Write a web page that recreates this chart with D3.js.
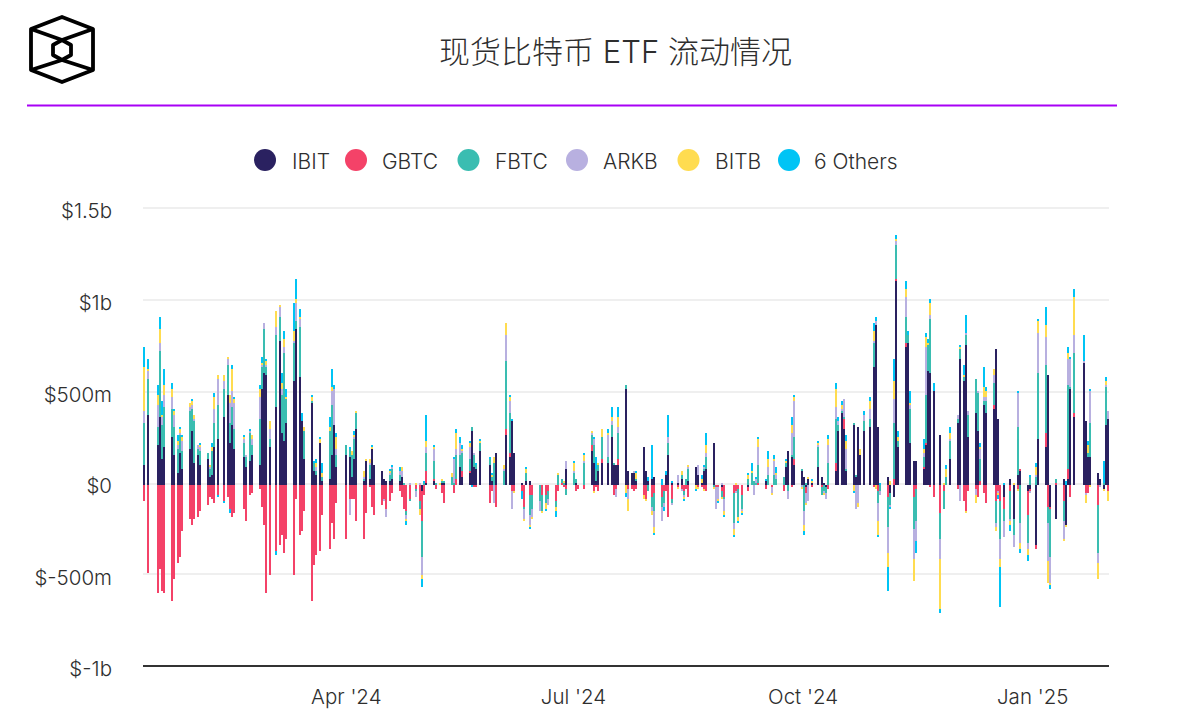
<!DOCTYPE html>
<html>
<head>
    <meta charset="utf-8">
    <style>
        html, body {
            margin: 0;
            padding: 0;
            background: #fff;
        }

        text {
            font-family: Inter, "Noto Sans CJK SC", sans-serif;
            font-weight: 300;
            fill: #2e2e2e;
        }

        .axis .domain {
            display: none;
        }
    </style>
    <script src="https://cdnjs.cloudflare.com/ajax/libs/d3/7.8.5/d3.min.js"></script>
</head>
<body>
<svg id="chart" width="1186" height="722"></svg>
<script>
    "use strict";

    const TITLE = "现货比特币 ETF 流动情况";
    const keys = ["IBIT", "GBTC", "FBTC", "ARKB", "BITB", "6 Others"];
    const colors = ["#2a2160", "#f44268", "#3abdb1", "#b8b0e0", "#ffdc50", "#00c4f5"];
    const yTicks = [1500, 1000, 500, 0, -500, -1000];
    const yTickLabels = ["$1.5b", "$1b", "$500m", "$0", "$-500m", "$-1b"];
    const xTicks = ["2024-04-01", "2024-07-01", "2024-10-01", "2025-01-01"];

    // trading days, month by month
    const tradingDays = [
        ["2024-01", [11, 12, 16, 17, 18, 19, 22, 23, 24, 25, 26, 29, 30, 31]],
        ["2024-02", [1, 2, 5, 6, 7, 8, 9, 12, 13, 14, 15, 16, 20, 21, 22, 23, 26, 27, 28, 29]],
        ["2024-03", [1, 4, 5, 6, 7, 8, 11, 12, 13, 14, 15, 18, 19, 20, 21, 22, 25, 26, 27, 28]],
        ["2024-04", [1, 2, 3, 4, 5, 8, 9, 10, 11, 12, 15, 16, 17, 18, 19, 22, 23, 24, 25, 26, 29, 30]],
        ["2024-05", [1, 2, 3, 6, 7, 8, 9, 10, 13, 14, 15, 16, 17, 20, 21, 22, 23, 24, 28, 29, 30, 31]],
        ["2024-06", [3, 4, 5, 6, 7, 10, 11, 12, 13, 14, 17, 18, 20, 21, 24, 25, 26, 27, 28]],
        ["2024-07", [1, 2, 3, 5, 8, 9, 10, 11, 12, 15, 16, 17, 18, 19, 22, 23, 24, 25, 26, 29, 30, 31]],
        ["2024-08", [1, 2, 5, 6, 7, 8, 9, 12, 13, 14, 15, 16, 19, 20, 21, 22, 23, 26, 27, 28, 29, 30]],
        ["2024-09", [3, 4, 5, 6, 9, 10, 11, 12, 13, 16, 17, 18, 19, 20, 23, 24, 25, 26, 27, 30]],
        ["2024-10", [1, 2, 3, 4, 7, 8, 9, 10, 11, 14, 15, 16, 17, 18, 21, 22, 23, 24, 25, 28, 29, 30, 31]],
        ["2024-11", [1, 4, 5, 6, 7, 8, 11, 12, 13, 14, 15, 18, 19, 20, 21, 22, 25, 26, 27, 29]],
        ["2024-12", [2, 3, 4, 5, 6, 9, 10, 11, 12, 13, 16, 17, 18, 19, 20, 23, 24, 26, 27, 30, 31]],
        ["2025-01", [2, 3, 6, 7, 8, 10, 13, 14, 15, 16, 17, 21, 22, 23, 24, 27, 28, 29, 30, 31]]
    ];

    // daily flows in $m, one line per month as above
    const ibit = [
        110, 382, 218, 371, 142, 207, 262, 164, 66, 175, 87, 197, 295, 120,
        164, 109, 142, 44, 55, 207, 251, 371, 491, 229, 328, 197, 153, 98, 131, 164, 109, 524, 612, 601,
        207, 426, 786, 284, 240, 338, 568, 852, 590, 349, 142, 448, 76, 55, 229, 22, 33, 164, 328, 98,
        164, 153, 44, 142, 306, 22, 131, 33, 197, 109, 76, 33, 22, 22, 33, 22, 44, 0, 0, 0, 0, 0,
        -33, 0, 11, 22, 0, 0, 11, 11, 0, 0, 0, 98, 44, 66, 295, 98, 87, 186, 109, 22, 0, 175,
        0, 273, 153, 349, 175, 11, 0, 22, 22, 0, 0, 0, 0, 0, 0, 0, 0, 0, 87,
        0, 11, 0, 0, 186, 120, 22, 76, 120, 120, 262, 109, 109, 109, 524, 76, 66, 66, 22, 207, 76, 22,
        33, 44, 0, 0, 55, 164, 11, 11, 33, 0, 0, 22, 98, 55, 11, 76, 87, 229, 0, 0, -11, 0,
        0, 0, 0, 0, -11, 0, 0, 0, 0, 22, 0, 0, 0, 0, 0, 98, 186, 153, 109, 76,
        44, -11, 33, 11, 98, 44, 11, -11, 0, 76, 295, 393, 306, 76, 328, 44, 317, 164, 295, 317, 644, 873, 317,
        0, 44, -44, -66, 1113, 207, 753, 775, 229, 131, 131, 87, 218, 622, 611, 513, 273, 0, 0, 142,
        339, 688, 568, 764, 262, 393, 295, 0, 437, 393, 415, 743, 360, 0, -66, 33, -186, 55, 76, -33, -22,
        -328, 251, 207, 601, -120, -186, 33, -218, 33, 524, 371, 666, 349, 153, 153, 66, 33, -22, 328, 360
    ];
    const gbtc = [
        -87, -480, -590, -459, -579, -590, -633, -513, -426, -393, -251, -186, -218, -186,
        -175, -142, -109, -66, -76, -98, -55, -87, -66, -131, -175, -153, -131, -197, -55, -44, -22, -120, -218, -590,
        -491, -360, -328, -273, -371, -295, -491, -76, -273, -251, -142, -633, -437, -382, -360, -164, -349, -207, -295, -98,
        -295, -76, -76, -76, -197, -295, -153, -11, -120, -164, -109, -76, -131, -87, -44, -33, -66, -131, -142, -76, -22, -87,
        -164, -55, 66, 11, -22, 0, -44, -98, 0, -44, 33, 0, 33, 11, 0, -11, -11, 0, -98, -33, 0, -120,
        0, 33, 22, -33, -33, -33, -120, 0, -55, -55, 0, -55, -55, -33, -87, -33, 11, -11, -22,
        0, -33, -22, -22, 33, -33, -11, -33, 22, 0, 0, -55, -22, 33, 0, -22, -22, -33, -22, -55, -76, 0,
        -66, -44, -66, -33, -33, -175, -76, -11, -22, -33, -22, -66, 0, -11, -11, -22, -33, 0, -11, -11, -22, -66,
        -44, -33, -22, -55, -22, 0, 0, 0, 11, -22, 0, -11, 0, 0, -33, 0, 0, -11, 33, 0,
        0, -33, 0, -11, 0, -11, 0, 0, -22, 44, 0, 0, 55, 0, 0, 0, 0, 0, 0, 0, -11, 0, -33,
        0, -66, 0, 33, 11, 0, 22, 0, 0, -66, -22, 11, 11, 0, -11, -66, -153, -33, 0, 0,
        -22, 0, -87, -142, -33, -22, -66, 22, -44, -98, 22, -87, -33, -87, -66, -33, 0, -22, 11, -131, -11,
        -22, 0, 76, -120, -11, 11, -87, 0, 55, -66, 22, 0, -44, -44, 0, -109, 0, 0, 0, -33
    ];
    const fbtc = [
        230, 197, 98, 360, 186, 218, 153, 153, 131, 98, 98, 207, 120, 229,
        33, 76, 33, 44, 131, 131, 186, 153, 164, 109, 98, 109, 76, 55, 153, 55, 251, 120, 240, 44,
        44, 393, 131, 207, 480, 131, 207, 44, 273, 0, 153, 11, 44, 22, 0, 22, 262, 273, 0, 66,
        55, 44, 120, 109, 87, 11, 0, 76, 0, 0, 0, 0, 0, 33, 55, 33, 0, 11, -22, -11, -11, -44,
        -197, 11, 98, 98, 11, 0, 11, 11, 44, 11, 131, 66, 98, 66, 22, 66, 22, 44, 33, 22, 120, 0,
        76, 371, 218, 0, 0, 0, -11, 44, -109, -76, -87, -87, -44, -44, -33, 55, 22, 11, -33,
        66, 22, 0, 120, 55, 98, 66, 33, 120, 33, 66, 11, 0, 142, 22, 0, 0, 0, 11, 0, 0, -33,
        -55, -98, -55, -66, 0, 66, -22, 0, 22, -22, 33, 66, 0, 0, 0, 11, 66, -11, 0, 0, -33, -11,
        -164, 0, -153, -76, 33, 66, 22, 11, 98, 0, 55, 0, 55, 33, 44, 22, -33, 11, 120, 11,
        -142, 11, 0, 0, 109, -44, -33, -33, 120, 240, 33, 11, 11, 11, 11, 11, 0, 0, 55, 44, 131, 0, -66,
        -33, -164, -66, 306, 186, 33, 142, 44, 186, -175, -175, 55, 262, 142, 295, 0, -142, -98, 44, 98,
        22, 55, 22, 55, 120, 186, 207, 120, 22, 66, 120, -120, 0, -207, -66, -153, -87, 262, -207, -153, 44,
        44, 360, 371, -87, -262, 22, -109, 0, 459, 11, 328, 0, 0, 22, 186, -262, 0, 11, 207, 0
    ];
    const arkb = [
        66, 44, 120, 44, 44, 66, 66, 66, 22, 11, 55, 22, 22, 11,
        22, 22, 0, 11, 0, 76, 142, 44, 33, 109, 87, 142, 22, 11, 11, 33, 120, 11, 33, 11,
        55, 44, 55, 33, 33, 0, 11, 98, 44, 0, 0, 0, 0, 22, 0, 0, 0, 76, 197, 33,
        0, -87, 0, 11, 0, 11, 0, 11, 0, 0, 0, -11, -44, 11, 11, 22, 33, 0, -22, 11, -33, 11,
        -98, 0, 33, 66, 0, 0, 0, 0, 0, 131, 33, 66, 11, 66, 0, 11, 0, 0, 0, 0, -98, 0,
        11, 142, 66, -98, 0, 0, -55, 0, -55, -44, -55, 0, 0, -33, 0, 0, 0, 0, 44,
        11, 0, 0, 11, 11, 33, 0, 0, 0, 120, 22, 0, -44, 33, 0, -55, 0, 11, 0, 0, 0, 0,
        -22, -87, -76, -22, 0, 33, -11, 44, -11, -11, 0, 11, 0, 55, 0, 11, 22, 0, -120, -66, 11, -66,
        -33, -11, 0, -11, 0, 0, -55, 22, 98, 0, 44, -33, 76, 22, 0, 0, -44, 120, 197, -11,
        -76, -55, -87, 0, 11, 0, -11, -33, 98, 66, 22, 11, 98, 109, 0, -131, -98, 0, 33, 55, 11, 22, -98,
        -22, -142, -11, 131, 22, 0, 109, 0, 22, -164, -109, 22, 262, 0, 22, 0, -109, 0, 0, 11,
        22, -87, 0, 11, 22, -33, 11, 55, 22, 22, 44, -22, -11, -109, -87, -11, -66, 186, -109, -33, -11,
        11, 218, 153, -207, -142, 0, -98, 0, 142, 153, 98, 11, -11, 0, 175, -55, -11, 0, 11, 44
    ];
    const bitb = [
        240, 11, 55, 76, 11, 55, 44, 22, 22, 22, 22, 22, 22, 22,
        0, 11, 0, 11, 22, 66, 22, 33, 11, 44, 120, 22, 11, 0, 0, 22, 44, 11, 0, 22,
        44, 87, 11, 33, 44, 11, 55, 22, 11, 0, 22, 22, 0, 22, 22, 22, 22, 22, 0, 66,
        0, 0, 22, 11, 11, 33, 11, 22, 11, 0, 0, 0, 0, 11, 0, 0, 22, 0, -11, 0, 11, -33,
        -22, 0, 33, 11, 0, 11, 11, 0, 22, 0, 87, 0, 11, 22, 0, 0, 0, 11, 0, 11, 33, 0,
        22, 66, 22, 0, -11, 0, -11, 22, -11, -11, 0, -11, -33, 0, -22, 11, 0, 11, 0,
        44, 0, 0, 33, 11, -11, 0, 11, 44, 11, 22, 0, 0, 55, -44, -66, 0, 0, 33, -22, -11, 0,
        -22, -33, 0, 0, 0, 0, 0, -11, 22, -11, 0, 11, -22, -11, 22, -11, 44, -11, 0, -11, -11, -22,
        -33, 11, -22, -11, 22, 11, 0, 0, 44, 0, 44, -11, 11, 11, 0, 11, 0, 44, 22, -11,
        -33, -11, 11, 11, 11, 0, -11, 0, 33, 98, 0, 22, 0, 44, -33, 0, -22, 33, 0, 44, 55, -22, -76,
        0, -76, 22, 98, 11, 22, 44, 0, 11, -120, 0, 22, 55, 11, 66, 0, -273, 11, 44, 33,
        0, 11, 11, -11, 0, -44, 0, 11, 55, 33, 33, -22, -11, -44, 0, -22, 11, -11, -33, -33, 0,
        44, 66, 66, -120, -11, 0, -11, -11, 33, 0, 207, 0, -44, 44, -11, -87, 0, -11, 22, -55
    ];
    const others = [
        109, 55, 55, 66, 76, 87, 33, 11, 33, 11, 11, 0, 11, 0,
        0, 11, 0, 0, 22, 22, -11, -11, 0, -22, 22, 11, 11, 0, 11, 0, 22, 33, 0, 11,
        0, -22, 0, 55, 44, 44, 153, 109, 44, 44, 0, 11, 11, 22, 11, 55, 55, 98, 22, 22,
        0, 11, 0, 22, 0, 0, 0, 0, 11, 0, 0, 0, 0, 11, 11, 22, 0, 0, -22, 0, 0, 0,
        -44, 11, 142, 11, 0, 0, 0, 0, 0, 11, 22, 33, 22, 11, -11, 0, 11, 11, 11, 11, 0, 0,
        0, 0, 11, 11, 0, -44, 0, 11, -11, 0, 0, 0, -11, 0, -33, 0, 0, 0, 0,
        11, 0, 0, 11, 0, 11, 66, 0, 0, 22, 55, 0, 0, 55, -22, 0, 0, 0, 11, 0, 0, 22,
        186, -11, 33, -22, 22, 120, 11, 0, 0, -11, 0, 0, -11, 0, 22, 11, 66, 0, 0, -11, 0, -11,
        -11, 0, -11, -11, 11, 44, 0, 11, 11, 11, 44, 0, 22, 33, 0, 11, 0, 44, 11, 0,
        -22, 0, 0, 11, 11, 0, 0, 0, 22, 33, 22, 22, 0, 33, -11, 0, 0, 0, 22, 22, 44, 22, -11,
        11, -131, -11, 120, 22, 33, 44, 22, 66, 0, -66, 55, 22, 22, 22, 44, -22, 0, 22, 33,
        0, 11, 55, 98, 0, 0, 0, 22, 109, 22, 0, 0, -22, -218, 11, -33, 0, 11, -22, -33, 11,
        22, 11, 98, 0, -22, 0, 0, 22, 33, 11, 44, 142, 0, 22, 11, 0, 0, 120, 22, 0
    ];
    const seriesValues = [ibit, gbtc, fbtc, arkb, bitb, others];

    const parseDay = d3.utcParse("%Y-%m-%d");
    const days = tradingDays.flatMap(([month, list]) =>
        list.map(day => parseDay(month + "-" + String(day).padStart(2, "0"))));

    const rows = days.map((date, i) => {
        const row = {date: date};
        keys.forEach((key, k) => row[key] = seriesValues[k][i]);
        return row;
    });

    const svg = d3.select("#chart");

    const x = d3.scaleUtc()
        .domain([parseDay("2024-01-11"), parseDay("2025-01-31")])
        .range([143.64, 1107.1]);
    const y = d3.scaleLinear().domain([-1000, 1500]).range([666.3, 208.4]);
    const color = d3.scaleOrdinal(keys, colors);

    // the bars sit on a 2px column / row grid
    const BAR_W = 2;
    const snapX = d => 143 + BAR_W * Math.round((x(d) - 143) / BAR_W);
    const snapY = v => 485 + BAR_W * Math.round((y(v) - y(0)) / BAR_W);

    // logo
    const logo = svg.append("g")
        .attr("fill", "none")
        .attr("stroke", "#000")
        .attr("stroke-width", 3.8)
        .attr("stroke-linejoin", "round");
    logo.append("path").attr("d", "M62 17L93 29L93 70L62 82L31 70L31 29Z");
    logo.append("path").attr("d", "M62 40L71 45L71 55L62 60L53 55L53 45Z");
    logo.append("path").attr("d", "M31 29L62 40L93 29M31 70L62 60L93 70");

    svg.append("text")
        .attr("x", 615.5)
        .attr("y", 63)
        .attr("text-anchor", "middle")
        .attr("font-size", 31)
        .text(TITLE);

    svg.append("line")
        .attr("x1", 27)
        .attr("x2", 1117)
        .attr("y1", 105.5)
        .attr("y2", 105.5)
        .attr("stroke", "#a800f5")
        .attr("stroke-width", 2);

    // legend
    const legendDots = [265, 356, 468.5, 577, 688.5, 789];
    const legendText = [292, 382, 495, 603, 715, 814];
    const legend = svg.append("g").selectAll("g").data(keys).enter().append("g");
    legend.append("circle")
        .attr("cx", (d, i) => legendDots[i])
        .attr("cy", 160)
        .attr("r", 11)
        .attr("fill", d => color(d));
    legend.append("text")
        .attr("x", (d, i) => legendText[i])
        .attr("y", 168.5)
        .attr("font-size", 21)
        .text(d => d);

    // gridlines
    svg.append("g").selectAll("rect").data(yTicks.filter(d => d !== -1000)).enter().append("rect")
        .attr("x", 143)
        .attr("width", 966)
        .attr("y", d => 2 * Math.round(y(d) / 2) - 1)
        .attr("height", 2)
        .attr("fill", "#efefef");

    // bars
    const stack = d3.stack().keys(keys).offset(d3.stackOffsetDiverging);
    svg.append("g")
        .attr("shape-rendering", "crispEdges")
        .selectAll("g")
        .data(stack(rows))
        .enter().append("g")
        .attr("fill", d => color(d.key))
        .selectAll("rect")
        .data(d => d.filter(s => s[0] !== s[1]))
        .enter().append("rect")
        .attr("x", d => snapX(d.data.date))
        .attr("width", BAR_W)
        .attr("y", d => Math.min(snapY(d[0]), snapY(d[1])))
        .attr("height", d => Math.abs(snapY(d[0]) - snapY(d[1])));

    // baseline
    svg.append("line")
        .attr("x1", 143)
        .attr("x2", 1109)
        .attr("y1", 666)
        .attr("y2", 666)
        .attr("stroke", "#333")
        .attr("stroke-width", 2);

    // axes
    const yAxis = d3.axisLeft(y)
        .tickValues(yTicks)
        .tickFormat((d, i) => yTickLabels[i])
        .tickSize(0)
        .tickPadding(31);
    svg.append("g")
        .attr("class", "axis")
        .attr("transform", "translate(143,3)")
        .call(yAxis)
        .selectAll("text")
        .attr("font-size", 20.5);

    const xAxis = d3.axisBottom(x)
        .tickValues(xTicks.map(parseDay))
        .tickFormat(d3.utcFormat("%b '%y"))
        .tickSize(0)
        .tickPadding(23);
    svg.append("g")
        .attr("class", "axis")
        .attr("transform", "translate(0,666)")
        .call(xAxis)
        .selectAll("text")
        .attr("font-size", 20.5);

    svg.selectAll(".axis").attr("font-family", null).attr("font-size", null);
</script>
</body>
</html>
